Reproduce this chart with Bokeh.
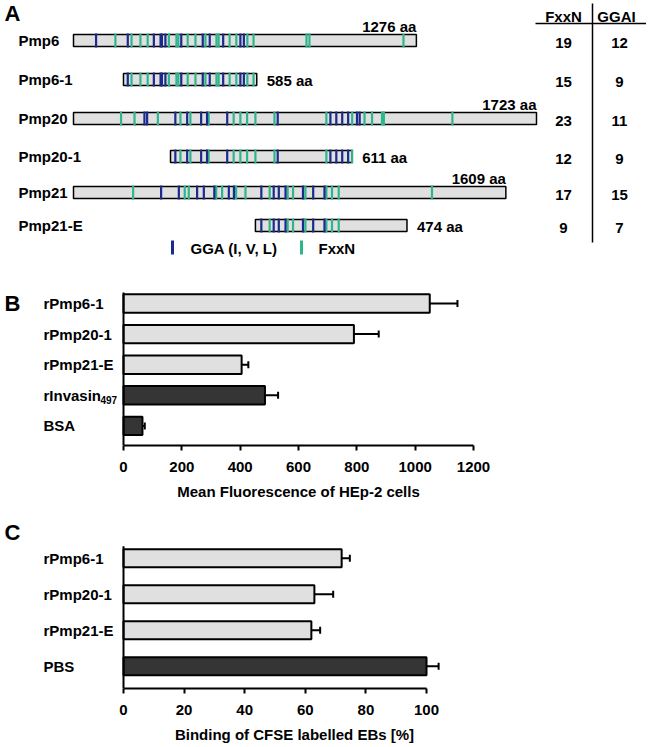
from bokeh.plotting import figure
from bokeh.layouts import column
from bokeh.models import (Range1d, ColumnDataSource, Whisker, SingleIntervalTicker, TeeHead)
from bokeh.core.properties import value
from bokeh.embed import file_html
from bokeh.resources import INLINE

# ---------------- Panel A data ----------------
rows = ["Pmp6", "Pmp6-1", "Pmp20", "Pmp20-1", "Pmp21", "Pmp21-E"]
parent = ["Pmp6", "Pmp6", "Pmp20", "Pmp20", "Pmp21", "Pmp21"]
row_start = [0, 186, 0, 361, 0, 677]
row_end = [1276, 682, 1723, 1037, 1609, 1241]
length_labels = ["1276 aa", "585 aa", "1723 aa", "611 aa", "1609 aa", "474 aa"]
fxxn_count = [19, 15, 23, 12, 17, 9]
ggai_count = [12, 9, 11, 9, 15, 7]
table_headers = ["FxxN", "GGAI"]
legend_labels = ["GGA (I, V, L)", "FxxN"]

pmp6_ggai = [84, 202, 299, 324, 329, 342, 401, 481, 507, 557, 621, 634]
pmp6_fxxn = [156, 216, 249, 276, 355, 383, 390, 425, 454, 491, 532, 540, 581,
             606, 647, 670, 867, 878, 1228]
pmp20_ggai = [264, 274, 379, 423, 475, 497, 572, 760, 956, 978, 1000, 1022, 1055, 1065]
pmp20_fxxn = [177, 227, 314, 398, 435, 503, 596, 621, 646, 677, 748, 941, 1037,
              1083, 1111, 1148, 1155, 1410]
pmp21_ggai = [326, 392, 460, 485, 524, 578, 597, 699, 745, 764, 789, 854, 892, 934]
pmp21_fxxn = [222, 414, 429, 531, 553, 605, 640, 730, 797, 817, 863, 941, 962, 987, 1334]

# ---------------- Panel B data ----------------
b_labels = ["rPmp6-1", "rPmp20-1", "rPmp21-E", "rInvasin", "BSA"]
b_sub = ["", "", "", "497", ""]
b_values = [1050, 790, 405, 485, 65]
b_err = [95, 85, 23, 45, 8]
b_group = ["Pmp", "Pmp", "Pmp", "control", "control"]
b_xlabel = "Mean Fluorescence of HEp-2 cells"

# ---------------- Panel C data ----------------
c_labels = ["rPmp6-1", "rPmp20-1", "rPmp21-E", "PBS"]
c_values = [72, 63, 62, 100]
c_err = [2.7, 6.2, 2.9, 4.0]
c_group = ["Pmp", "Pmp", "Pmp", "control"]
c_xlabel = "Binding of CFSE labelled EBs [%]"

# ---------------- styles / layout ----------------
FONT_NAME = "Liberation Sans"
FONT = value(FONT_NAME)
BLUE = "#1c2a8c"
GREEN = "#2fb58b"
LIGHT = "#e0e0e0"
DARK = "#353535"
GROUP_COLOR = {"Pmp": LIGHT, "control": DARK}
W = 646
HA, HB, HC = 262, 240, 243
TXT = dict(text_font=FONT, text_font_style="bold", text_font_size="15px",
           text_color="black")


def no_align(p):
    if "frame_align" in p.properties():
        p.frame_align = False


# ======== Panel A ========
PX_PER_AA = 463 / 1723.0
X0_PAGE = 73


def aa(px):
    return (px - X0_PAGE) / PX_PER_AA


ROW_Y = [40, 79, 118, 156, 192, 225]

pa = figure(width=W, height=HA, x_range=Range1d(aa(0), aa(W)),
            y_range=Range1d(HA, 0), x_axis_location=None, y_axis_location=None,
            min_border=0, toolbar_location=None, output_backend="svg",
            outline_line_color=None)
no_align(pa)
pa.xgrid.grid_line_color = None
pa.ygrid.grid_line_color = None

pa.hbar(y=ROW_Y, left=row_start, right=row_end, height=12,
        fill_color=LIGHT, line_color="black", line_width=1.5)

ggai = {"Pmp6": pmp6_ggai, "Pmp20": pmp20_ggai, "Pmp21": pmp21_ggai}
fxxn = {"Pmp6": pmp6_fxxn, "Pmp20": pmp20_fxxn, "Pmp21": pmp21_fxxn}
mx, my0, my1, mc = [], [], [], []
for i in range(len(rows)):
    for d, col in ((fxxn, GREEN), (ggai, BLUE)):
        for pos in d[parent[i]]:
            if row_start[i] <= pos <= row_end[i]:
                mx.append(pos)
                my0.append(ROW_Y[i] - 7)
                my1.append(ROW_Y[i] + 7)
                mc.append(col)
pa.segment(x0=mx, x1=mx, y0=my0, y1=my1, line_color=mc, line_width=2.2)

pa.text(x=[aa(18)] * len(rows), y=ROW_Y, text=rows, text_align="left",
        text_baseline="middle", **TXT)

full = [i for i in range(len(rows)) if parent[i] == rows[i]]
frag = [i for i in range(len(rows)) if parent[i] != rows[i]]
pa.text(x=[row_end[i] for i in full], y=[ROW_Y[i] - 14 for i in full],
        text=[length_labels[i] for i in full], text_align="right",
        text_baseline="middle", **TXT)
pa.text(x=[row_end[i] for i in frag], y=[ROW_Y[i] + 1 for i in frag],
        text=[length_labels[i] for i in frag], text_align="left",
        text_baseline="middle", x_offset=10, **TXT)

# table
pa.text(x=[aa(563), aa(616)], y=[16, 16], text=table_headers, text_align="center",
        text_baseline="middle", **TXT)
pa.text(x=[aa(563)] * len(rows), y=[y + 2 for y in ROW_Y],
        text=[str(v) for v in fxxn_count], text_align="center",
        text_baseline="middle", **TXT)
pa.text(x=[aa(619)] * len(rows), y=[y + 2 for y in ROW_Y],
        text=[str(v) for v in ggai_count], text_align="center",
        text_baseline="middle", **TXT)
pa.segment(x0=[aa(535)], x1=[aa(646)], y0=[23], y1=[23], line_color="black", line_width=1.5)
pa.segment(x0=[aa(592)], x1=[aa(592)], y0=[3], y1=[242], line_color="black", line_width=1.5)

# legend
pa.segment(x0=[aa(172), aa(301)], x1=[aa(172), aa(301)], y0=[240, 240], y1=[254, 254],
           line_color=[BLUE, GREEN], line_width=3)
pa.text(x=[aa(190), aa(318)], y=[248, 248], text=legend_labels, text_align="left",
        text_baseline="middle", **TXT)

pa.text(x=[aa(4)], y=[13], text=["A"], text_align="left", text_baseline="middle",
        text_font=FONT, text_font_style="bold", text_font_size="22px")


# ======== bar panels ========
def bar_panel(labels, subs, values, errs, groups, xlabel, height, page_top,
              x_page0, px_per_unit, bounds, tick, frame_top, frame_bottom, frame_right,
              axis_top_page, row0_page, row_step, bar_h, letter, letter_page_y):
    n = len(labels)
    ypos = [n - 1 - i for i in range(n)]

    def xd(px):
        return (px - x_page0) / px_per_unit

    def yd(py):
        return (n - 1) - (py - row0_page) / row_step

    src = ColumnDataSource(dict(
        y=ypos, v=values, lo=[v - e for v, e in zip(values, errs)],
        hi=[v + e for v, e in zip(values, errs)], label=labels, sub=subs,
        color=[GROUP_COLOR[g] for g in groups]))
    p = figure(width=W, height=height, x_range=Range1d(xd(0), xd(frame_right)),
               y_range=Range1d(yd(frame_bottom), yd(frame_top)),
               min_border_left=0, min_border_right=W - frame_right,
               min_border_top=frame_top - page_top,
               min_border_bottom=page_top + height - frame_bottom,
               y_axis_location=None, toolbar_location=None, output_backend="svg",
               outline_line_color=None)
    no_align(p)
    p.xgrid.grid_line_color = None
    p.ygrid.grid_line_color = None
    p.hbar(y="y", left=0, right="v", height=bar_h, fill_color="color",
           line_color="black", line_width=2, source=src)
    p.add_layout(Whisker(base="y", lower="lo", upper="hi", dimension="width", source=src,
                         line_color="black", line_width=2,
                         lower_head=TeeHead(size=7, line_width=2, line_color="black"),
                         upper_head=TeeHead(size=7, line_width=2, line_color="black")))
    # left axis line
    p.segment(x0=[0], x1=[0], y0=[yd(frame_bottom)], y1=[yd(axis_top_page)],
              line_color="black", line_width=2)
    # category labels (left aligned)
    p.text(x=xd(43), y="y", text="label", source=src, text_align="left",
           text_baseline="middle", **TXT)
    p.text(x=xd(100), y="y", text="sub", source=src, text_align="left",
           text_baseline="middle", y_offset=5, text_font=FONT, text_font_style="bold",
           text_font_size="10px", text_color="black")
    p.text(x=[xd(4)], y=[yd(letter_page_y)], text=[letter], text_align="left",
           text_baseline="middle", text_font=FONT, text_font_style="bold",
           text_font_size="22px", text_color="black")

    xa = p.xaxis[0]
    xa.ticker = SingleIntervalTicker(interval=tick)
    xa.bounds = bounds
    xa.axis_line_width = 2
    xa.major_tick_line_width = 2
    xa.major_tick_in = 0
    xa.major_tick_out = 5
    xa.minor_tick_line_color = None
    xa.major_label_standoff = 11
    xa.major_label_text_font = FONT_NAME
    xa.major_label_text_font_style = "bold"
    xa.major_label_text_font_size = "15px"
    xa.major_label_text_color = "black"
    xa.axis_label = xlabel
    xa.axis_label_standoff = 8
    xa.axis_label_text_font = FONT_NAME
    xa.axis_label_text_font_style = "bold"
    xa.axis_label_text_font_size = "15px"
    xa.axis_label_text_color = "black"
    return p


pb = bar_panel(b_labels, b_sub, b_values, b_err, b_group, b_xlabel, HB, HA,
               x_page0=123, px_per_unit=350 / 1200, bounds=(0, 1200), tick=200,
               frame_top=285, frame_bottom=445, frame_right=596, axis_top_page=292,
               row0_page=303, row_step=30.6, bar_h=0.6, letter="B", letter_page_y=303)
pc = bar_panel(c_labels, [""] * len(c_labels), c_values, c_err, c_group, c_xlabel, HC,
               HA + HB, x_page0=123, px_per_unit=303 / 100, bounds=(0, 100), tick=20,
               frame_top=520, frame_bottom=689, frame_right=588, axis_top_page=546,
               row0_page=558, row_step=36.17, bar_h=0.5, letter="C", letter_page_y=532)

layout = column(pa, pb, pc)
open("out.html", "w").write(file_html(layout, INLINE))
